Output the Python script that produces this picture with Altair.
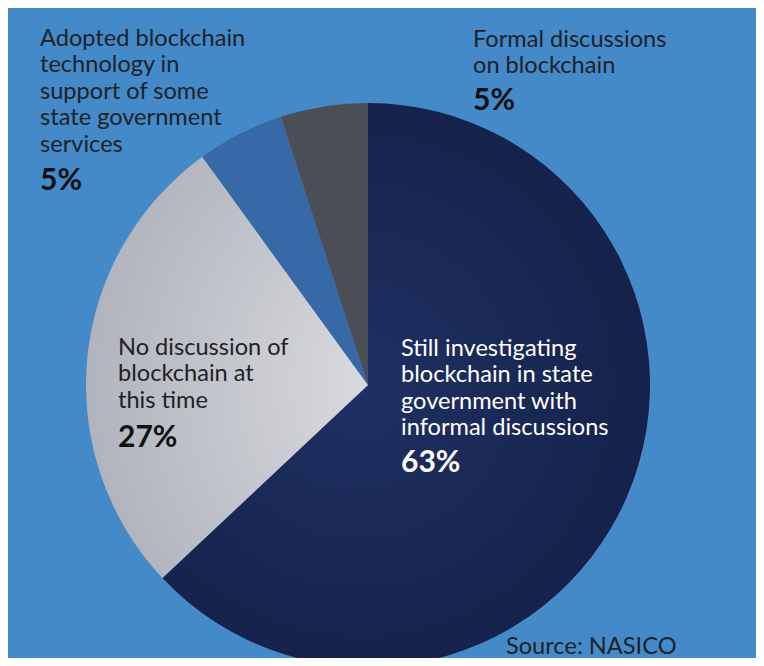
import altair as alt
import numpy as np
import pandas as pd

# ---- data ----
categories = [
    "Still investigating blockchain in state government with informal discussions",
    "No discussion of blockchain at this time",
    "Adopted blockchain technology in support of some state government services",
    "Formal discussions on blockchain",
]
values = [63, 27, 5, 5]
label_lines = [
    ["Still investigating", "blockchain in state", "government with", "informal discussions"],
    ["No discussion of", "blockchain at", "this time"],
    ["Adopted blockchain", "technology in", "support of some", "state government", "services"],
    ["Formal discussions", "on blockchain"],
]
pct_labels = ["63%", "27%", "5%", "5%"]
source_text = "Source: NASICO"

ends = np.cumsum(values)
starts = ends - np.array(values)
df = pd.DataFrame({
    "category": categories,
    "value": values,
    "start": starts,
    "end": ends,
    "pct": pct_labels,
    "label": ["\n".join(l) for l in label_lines],
})

# ---- styles ----
FONT = "Lato"
BG = "#4489c8"
CX, CY, R = 360, 377, 282

navy = alt.Gradient(
    gradient="radial",
    stops=[alt.GradientStop(color="#1f3063", offset=0),
           alt.GradientStop(color="#101a3d", offset=1)],
    x1=0.42, y1=0.5, x2=0.42, y2=0.5, r1=0, r2=0.8,
)
grey = alt.Gradient(
    gradient="radial",
    stops=[alt.GradientStop(color="#e2e3e6", offset=0),
           alt.GradientStop(color="#9ea2ad", offset=1)],
    x1=1.0, y1=0.54, x2=1.0, y2=0.54, r1=0, r2=1.15,
)
fills = [navy, grey, "#3669a5", "#4c4e56"]

# label layout: (x, first baseline y, pct baseline y, text colour)
layout = [
    (393, 348, 464, "#ffffff"),
    (110, 347, 439, "#1f2227"),
    (32, 38, 182, "#1f2227"),
    (465, 38.5, 102, "#1f2227"),
]

base = alt.Chart(df)
theta_scale = alt.Scale(domain=[0, 100], range=[0, 2 * np.pi])

layers = []
for cat, fill in zip(categories, fills):
    layers.append(
        base.transform_filter(alt.datum.category == cat)
        .mark_arc(fill=fill, outerRadius=R)
        .encode(
            theta=alt.Theta("start:Q", scale=theta_scale),
            theta2="end:Q",
            x=alt.value(CX),
            y=alt.value(CY),
        )
    )

for cat, (lx, ly, py, col) in zip(categories, layout):
    sub = base.transform_filter(alt.datum.category == cat)
    layers.append(
        sub.transform_calculate(lines="split(datum.label, '\\n')")
        .mark_text(font=FONT, fontSize=23.6, lineHeight=26.4, align="left",
                   baseline="alphabetic", color=col)
        .encode(text="lines:N", x=alt.value(lx), y=alt.value(ly))
    )
    layers.append(
        sub.mark_text(font=FONT, fontSize=30, fontWeight="bold", align="left",
                      baseline="alphabetic", color="#111111" if col != "#ffffff" else col)
        .encode(text="pct:N", x=alt.value(lx), y=alt.value(py))
    )

layers.append(
    alt.Chart(pd.DataFrame({"t": [source_text]}))
    .mark_text(font=FONT, fontSize=23.6, align="left", baseline="alphabetic", color="#1f2227")
    .encode(text="t:N", x=alt.value(498), y=alt.value(646))
)

chart = (
    alt.layer(*layers)
    .properties(width=748, height=650, background=BG, padding=0,
                autosize=alt.AutoSizeParams(type="none"))
    .configure_view(stroke=None)
)

chart.save("out.html", embed_options={"renderer": "svg", "actions": False})
